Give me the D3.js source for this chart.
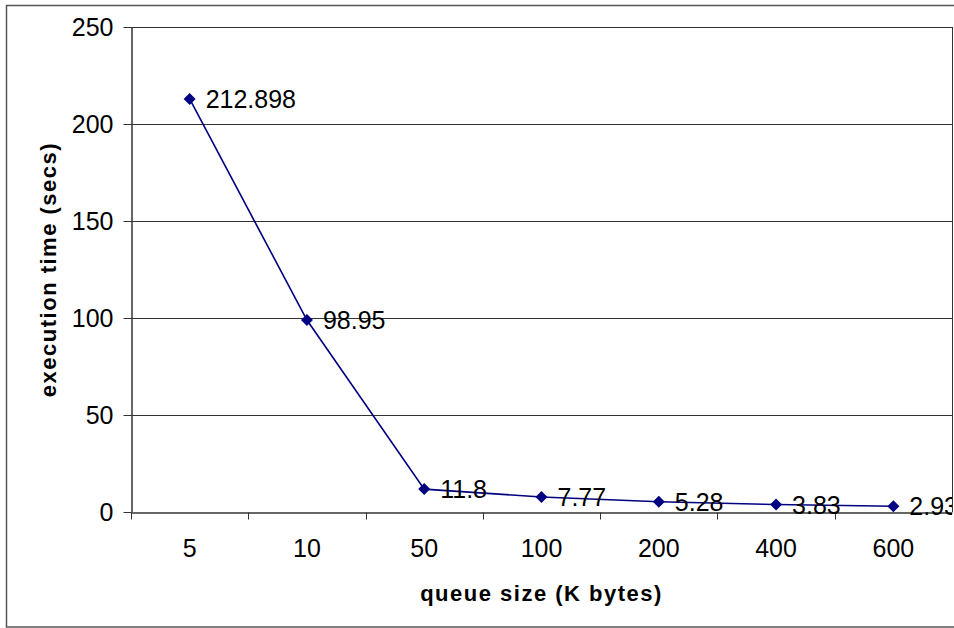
<!DOCTYPE html>
<html>
<head>
<meta charset="utf-8">
<script src="https://cdn.jsdelivr.net/npm/d3@7"></script>
<style>
  body { margin: 0; background: #fff; }
  text { font-family: Arial, "Liberation Sans", sans-serif; fill: #000; }
</style>
</head>
<body>
<script>
// Figure dimensions
const W = 954, H = 628;
const plot = { left: 131, right: 952, top: 27, bottom: 512 };

// Data
const QUEUE_SIZES = ["5", "10", "50", "100", "200", "400", "600"];
const EXEC_TIMES  = [212.898, 98.95, 11.8, 7.77, 5.28, 3.83, 2.93];
const Y_TICKS     = [0, 50, 100, 150, 200, 250];

const NAVY = '#000080';
const LABEL_SIZE = "25px";

// Scales
const x = d3.scaleBand()
  .domain(QUEUE_SIZES)
  .range([plot.left, plot.right]);
const y = d3.scaleLinear()
  .domain([0, 250])
  .range([plot.bottom, plot.top]);

const data = QUEUE_SIZES.map((q, i) => ({ q, v: EXEC_TIMES[i] }));

var svg = d3.select("body").append("svg")
  .attr("width", W)
  .attr("height", H);

svg.append("defs").append("clipPath")
  .attr("id", "clip-labels")
  .append("rect")
    .attr("x", 0).attr("y", 0)
    .attr("width", plot.right).attr("height", H);

// Outer frame (cut off at right edge, like the original)
svg.append("rect")
  .attr("x", 6.5).attr("y", 5.5)
  .attr("width", 980).attr("height", 621.5)
  .attr("fill", "none")
  .attr("stroke", "#555")
  .attr("stroke-width", 1.5);

// Gridlines
svg.append("g")
  .selectAll("line")
  .data(Y_TICKS.filter(d => d > 0))
  .join("line")
    .attr("x1", plot.left).attr("x2", plot.right)
    .attr("y1", d => Math.round(y(d)) + 0.5)
    .attr("y2", d => Math.round(y(d)) + 0.5)
    .attr("stroke", "#333")
    .attr("stroke-width", 1);

// Plot area border (right side)
svg.append("line")
  .attr("x1", plot.right + 0.5).attr("x2", plot.right + 0.5)
  .attr("y1", plot.top).attr("y2", plot.bottom)
  .attr("stroke", "#333");

// Y axis
const yAxis = g => {
  g.attr("transform", `translate(${plot.left + 0.5},0)`)
    .call(d3.axisLeft(y).tickValues(Y_TICKS).tickSize(8).tickPadding(10).tickSizeOuter(0))
    .call(g => g.select(".domain").attr("stroke", "#333").attr("stroke-width", 1.5))
    .call(g => g.selectAll(".tick line").attr("stroke", "#333"))
    .call(g => g.selectAll(".tick text")
      .attr("font-size", LABEL_SIZE)
      .attr("font-family", "Arial, 'Liberation Sans', sans-serif")
      .attr("fill", "#000"));
};
svg.append("g").call(yAxis);

// X axis: ticks sit between categories
const xAxis = g => {
  g.attr("transform", `translate(0,${plot.bottom + 0.5})`)
    .call(d3.axisBottom(x).tickSize(0).tickPadding(27).tickSizeOuter(0))
    .call(g => g.select(".domain").attr("stroke", "#333").attr("stroke-width", 1.5))
    .call(g => g.selectAll(".tick text")
      .attr("font-size", LABEL_SIZE)
      .attr("font-family", "Arial, 'Liberation Sans', sans-serif")
      .attr("fill", "#000"));
  g.selectAll(".sep")
    .data(QUEUE_SIZES)
    .join("line")
      .attr("class", "sep")
      .attr("x1", d => Math.round(x(d)) + 0.5)
      .attr("x2", d => Math.round(x(d)) + 0.5)
      .attr("y1", 0).attr("y2", 7)
      .attr("stroke", "#333");
};
svg.append("g").call(xAxis);

// Series line
const line = d3.line()
  .x(d => x(d.q) + x.bandwidth() / 2)
  .y(d => y(d.v));

svg.append("path")
  .datum(data)
  .attr("d", line)
  .attr("fill", "none")
  .attr("stroke", NAVY)
  .attr("stroke-width", 1.6);

// Diamond markers
svg.append("g")
  .selectAll("path")
  .data(data)
  .join("path")
    .attr("d", d3.symbol().type(d3.symbolSquare).size(72))
    .attr("transform", d => `translate(${x(d.q) + x.bandwidth() / 2},${y(d.v)}) rotate(45)`)
    .attr("fill", NAVY);

// Data labels
svg.append("g")
  .attr("clip-path", "url(#clip-labels)")
  .selectAll("text")
  .data(data)
  .join("text")
    .attr("x", d => x(d.q) + x.bandwidth() / 2 + 16)
    .attr("y", d => y(d.v) + 9)
    .attr("font-size", LABEL_SIZE)
    .text(d => d.v);

// Axis titles
svg.append("text")
  .attr("x", (plot.left + plot.right) / 2)
  .attr("y", 601)
  .attr("text-anchor", "middle")
  .attr("font-size", "22px")
  .attr("font-weight", "bold")
  .attr("letter-spacing", "1.5px")
  .text("queue size (K bytes)");

svg.append("text")
  .attr("transform", `translate(56,${(plot.top + plot.bottom) / 2}) rotate(-90)`)
  .attr("text-anchor", "middle")
  .attr("font-size", "22px")
  .attr("font-weight", "bold")
  .attr("letter-spacing", "1.5px")
  .text("execution time (secs)");
</script>
</body>
</html>
